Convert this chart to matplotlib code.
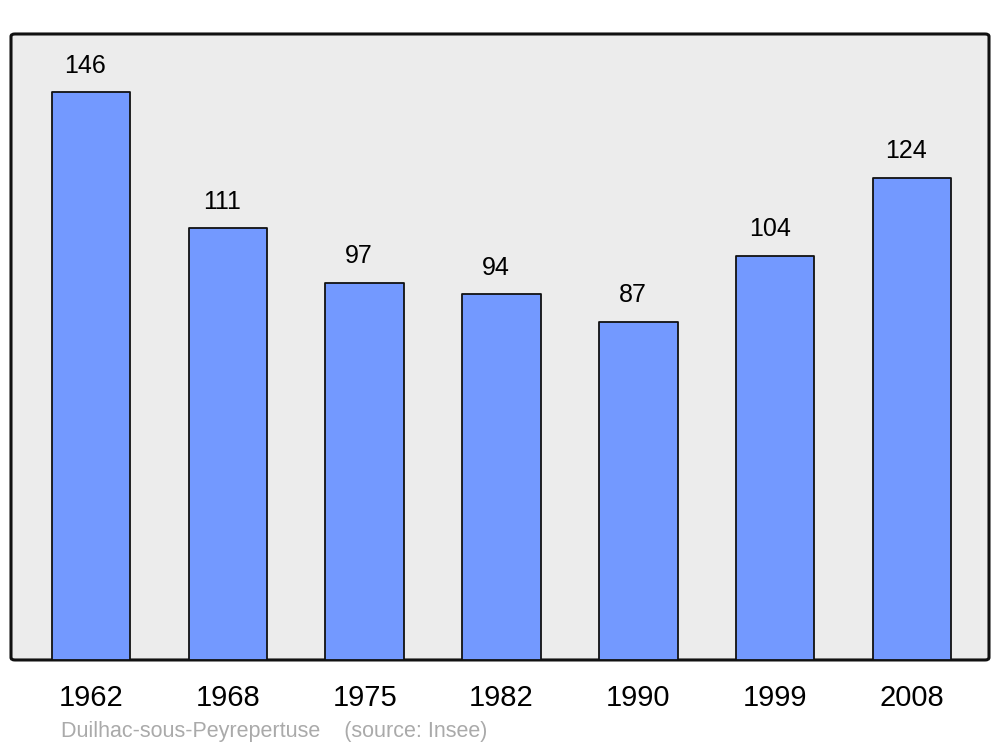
import matplotlib
matplotlib.use("Agg")
import matplotlib.pyplot as plt
from matplotlib.patches import FancyBboxPatch

# population data
years = ["1962", "1968", "1975", "1982", "1990", "1999", "2008"]
population = [146, 111, 97, 94, 87, 104, 124]
commune = "Duilhac-sous-Peyrepertuse"
source = "(source: Insee)"

plt.rcParams['font.family'] = ['Liberation Sans', 'DejaVu Sans']

fig = plt.figure(figsize=(10, 7.47), dpi=100)
ax = fig.add_axes([0.011, 0.1165, 0.978, 0.838])
ax.set_facecolor("none")

# rounded grey frame
frame = FancyBboxPatch((0, 0), 1, 1, boxstyle="round,pad=0,rounding_size=0.004",
                       transform=ax.transAxes, facecolor="#ececec",
                       edgecolor="#111111", linewidth=2.2, zorder=0, clip_on=False)
ax.add_patch(frame)

x = range(len(years))
bars = ax.bar(x, population, width=0.575, color="#7399ff", edgecolor="#111111",
              linewidth=1.3, zorder=2)
for b in bars:
    b.set_joinstyle("round")

for xi, v in zip(x, population):
    ax.annotate(str(v), (xi, v), xytext=(-4, 14), textcoords="offset points",
                ha="center", va="baseline", fontsize=18, zorder=3)

ax.set_xlim(-0.585, 6.563)
ax.set_ylim(0, 161)
ax.set_xticks(list(x))
ax.set_xticklabels(years, fontsize=21)
ax.tick_params(axis="x", length=0, pad=17)
ax.set_yticks([])
for s in ax.spines.values():
    s.set_visible(False)

fig.text(0.061, 1 - 737 / 747, commune + "    " + source, fontsize=15.5,
         color="#aaaaaa", va="baseline", ha="left")

fig.savefig("out.png", dpi=100)
